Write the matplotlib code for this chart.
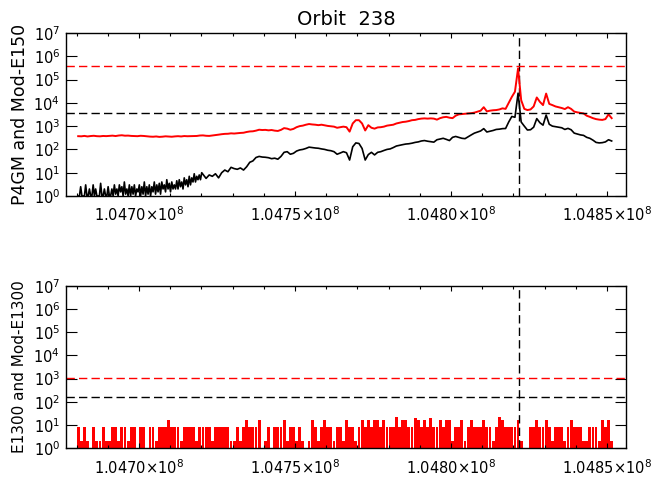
import numpy as np
import matplotlib.pyplot as plt
from matplotlib.ticker import FixedLocator, MultipleLocator, FuncFormatter

# sample times: one point every 1000 units starting at t0
t0 = 104680500
dt = 1000

# top panel: Mod-E150 (red) and P4GM (black)
mod_e150 = [370, 365, 380, 360, 375, 385, 370, 365, 378, 372, 380, 390, 375, 395, 405, 388,
            392, 380, 375, 370, 385, 378, 365, 355, 350, 360, 345, 352, 365, 358, 350, 362,
            370, 360, 375, 368, 372, 380, 378, 395, 400, 385, 380, 395, 410, 430, 450, 465,
            470, 490, 480, 495, 510, 520, 560, 590, 600, 640, 700, 680, 690, 660, 680, 640,
            620, 690, 820, 780, 700, 760, 900, 1000, 1050, 1150, 1230, 1180, 1150, 1100, 1150,
            1080, 1020, 980, 950, 850, 900, 950, 900, 580, 1300, 1800, 1800, 1300, 650, 1100,
            850, 780, 880, 900, 950, 1050, 1100, 1150, 1300, 1400, 1500, 1550, 1650, 1800,
            1850, 2000, 2100, 2150, 2100, 2150, 2100, 1900, 2200, 2400, 2500, 2300, 2200,
            2800, 3200, 3300, 3400, 3500, 3600, 3800, 4200, 4600, 6500, 4300, 4600, 4800,
            4900, 5200, 5800, 5500, 10000, 18000, 30000, 300000, 13000, 5500, 4900, 5200,
            7000, 17000, 11000, 8000, 25000, 9000, 8000, 7000, 6500, 6000, 5400, 6500, 5500,
            4200, 3900, 3700, 3500, 2800, 2500, 2200, 2000, 1900, 1850, 2000, 3200, 2200]

# P4GM, noisy low-count start (one point every 400 units)
dt_early = 400
p4gm_early = [1, 1, 2.5, 1, 1, 1, 3, 1, 1, 2, 1, 1, 3, 1, 2, 1, 1, 1, 3.5, 1, 1, 2, 1, 1,
              2.5, 1, 1,
              2, 1, 3, 1.2, 2, 1, 3, 1.5, 2.5, 1, 4, 1.2, 2, 1, 3, 1, 2.5, 1.2, 3, 1, 2,
              1.5, 3, 1, 2.5, 1.2, 4, 1, 2.5,
              1.2, 3, 1, 2.5, 1.5, 4, 1.2, 3, 1.5, 3.5, 1.2, 4, 2, 3, 1.5, 5, 2, 3.5, 1.5,
              4, 2, 3, 2, 4.5,
              2, 5, 2.5, 4, 2, 6, 3, 5, 2.5, 7, 3, 6, 4, 9, 4, 7, 5, 8, 5, 10]

# P4GM after the start, one point every 1000 units from t0 + 41000
p4gm = [5.7, 8, 7, 9, 6, 10, 13, 11,
        17, 15, 14, 16, 13, 18, 28, 32, 45, 50, 47, 46, 44, 40, 42, 38, 50, 75, 80, 62, 68,
        85, 95, 100, 110, 125, 120, 115, 112, 105, 100, 92, 88, 80, 62, 70, 80, 72, 35,
        130, 190, 180, 110, 35, 60, 75, 58, 75, 80, 90, 100, 105, 120, 140, 150, 160, 170,
        175, 185, 200, 210, 230, 240, 225, 215, 205, 260, 280, 300, 270, 240, 330, 360,
        330, 300, 290, 350, 420, 500, 560, 620, 780, 560, 600, 650, 720, 740, 780, 790,
        1500, 2600, 2400, 26000, 1500, 1000, 680, 700, 900, 2100, 1400, 1100, 3000, 1200,
        1000, 950, 900, 850, 720, 800, 700, 500, 460, 420, 400, 330, 300, 250, 200, 190,
        195, 210, 260, 230]

# bottom panel: Mod-E1300 (red)
mod_e1300 = [8, 2, 8, 2, 0, 8, 2, 2, 8, 2, 2, 8, 8, 2, 8, 8, 2, 8, 8, 0, 8, 8, 0, 8, 8, 2,
             8, 8, 8, 16, 8, 8, 8, 2, 8, 8, 8, 8, 2, 8, 8, 8, 8, 2, 8, 8, 8, 8, 8, 2, 2, 8,
             2, 8, 16, 8, 8, 8, 16, 0, 2, 8, 0, 8, 8, 8, 16, 2, 8, 8, 2, 8, 2, 0, 2, 16, 8,
             2, 8, 16, 8, 8, 2, 8, 8, 2, 16, 8, 8, 2, 8, 16, 8, 16, 8, 16, 16, 8, 16, 8, 8,
             8, 22, 8, 16, 16, 8, 8, 20, 16, 8, 16, 8, 20, 8, 8, 16, 8, 16, 16, 2, 8, 8, 16,
             2, 8, 16, 8, 8, 8, 16, 8, 8, 2, 8, 22, 16, 8, 8, 8, 8, 16, 2, 0, 0, 8, 8, 16, 8,
             8, 16, 8, 2, 8, 8, 8, 2, 8, 16, 8, 8, 8, 2, 2, 8, 8, 8, 2, 16, 8, 16, 2]

# reference levels
top_red_level = 3.7e5
top_black_level = 3.5e3
bot_red_level = 1070
bot_black_level = 162
event_time = 104821900

t_top = t0 + dt * np.arange(len(mod_e150))
t_black = np.concatenate([t0 + dt_early * np.arange(len(p4gm_early)),
                          t0 + 41000 + dt * np.arange(len(p4gm))])
v_black = p4gm_early + p4gm
t_bot = t0 + dt * np.arange(len(mod_e1300))

plt.rcParams['font.family'] = ['DejaVu Sans']
plt.rcParams['mathtext.fontset'] = 'dejavusans'

fig = plt.figure(figsize=(6.63, 4.80), dpi=100)
ax1 = fig.add_axes([0.0991, 0.5917, 0.8451, 0.3396])
ax2 = fig.add_axes([0.0991, 0.0660, 0.8451, 0.3388])


def xfmt(v, pos):
    return r'%.4f$\times$10$^{8}$' % (v / 1e8)


for ax in (ax1, ax2):
    ax.set_yscale('log', nonpositive='clip')
    ax.set_ylim(1, 1e7)
    ax.set_xlim(104676500, 104856100)
    ax.xaxis.set_major_locator(FixedLocator([1.0470e8, 1.0475e8, 1.0480e8, 1.0485e8]))
    ax.xaxis.set_minor_locator(MultipleLocator(10000))
    ax.xaxis.set_major_formatter(FuncFormatter(xfmt))
    ax.yaxis.set_major_locator(FixedLocator([1e0, 1e1, 1e2, 1e3, 1e4, 1e5, 1e6, 1e7]))
    ax.yaxis.set_minor_locator(plt.NullLocator())
    ax.tick_params(axis='y', which='major', direction='in', length=8, width=0.8,
                   left=True, right=True, labelsize=10.5, pad=4)
    ax.tick_params(axis='x', which='major', direction='in', length=3.5, width=0.8,
                   top=True, bottom=True, labelsize=10.5, pad=7)
    ax.tick_params(axis='x', which='minor', direction='in', length=2.2, width=0.8,
                   top=True, bottom=True)
    for s in ax.spines.values():
        s.set_linewidth(1.0)
    ax.axvline(event_time, color='black', lw=1.0, dashes=(6, 3))

ax1.plot(t_top, mod_e150, color='red', lw=1.4)
ax1.plot(t_black, v_black, color='black', lw=1.2)
ax1.axhline(top_red_level, color='red', lw=1.0, dashes=(6, 3))
ax1.axhline(top_black_level, color='black', lw=1.0, dashes=(6, 3))
ax1.set_ylabel('P4GM and Mod-E150', fontsize=12.5, labelpad=3)
ax1.set_title('Orbit  238', fontsize=14, pad=6)

ax2.bar(t_bot, mod_e1300, width=dt * 0.92, bottom=0, color='red', linewidth=0)
ax2.axhline(bot_red_level, color='red', lw=1.0, dashes=(6, 3))
ax2.axhline(bot_black_level, color='black', lw=1.0, dashes=(6, 3))
ax2.set_ylabel('E1300 and Mod-E1300', fontsize=11, labelpad=5)

fig.savefig('out.png', dpi=100)
